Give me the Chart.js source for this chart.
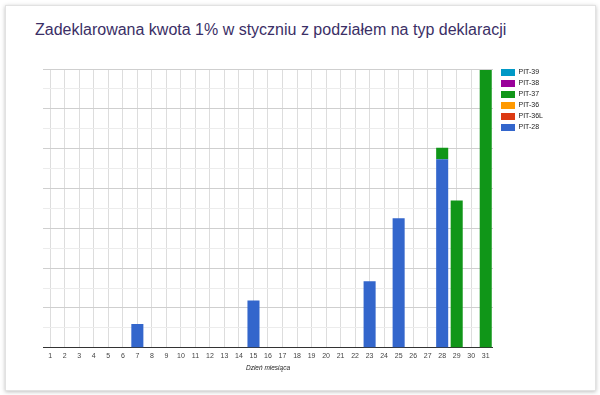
<!DOCTYPE html>
<html>
<head>
<meta charset="utf-8">
<script src="https://cdn.jsdelivr.net/npm/chart.js@4/dist/chart.umd.min.js"></script>
<style>
    html, body { margin: 0; padding: 0; background: #fff; }
    body { width: 600px; height: 395px; position: relative; overflow: hidden; font-family: "Liberation Sans", Arial, sans-serif; }
    #card {
        position: absolute; left: 5px; top: 5px; width: 589px; height: 384px;
        background: #fff; border: 1px solid #e2e2e2;
        box-shadow: 0 1px 4px rgba(0, 0, 0, 0.25);
    }
    #title {
        position: absolute; left: 35px; top: 22px; font-size: 16px; line-height: 16px;
        color: #3b2f66; white-space: nowrap;
    }
    #chart-wrap { position: absolute; left: 0; top: 0; width: 600px; height: 395px; }
</style>
</head>
<body>
<div id="card"></div>
<div id="title">Zadeklarowana kwota 1% w styczniu z podziałem na typ deklaracji</div>
<div id="chart-wrap"><canvas id="chart" width="600" height="395"></canvas></div>
<script>
// dni stycznia
const days = Array.from({ length: 31 }, (_, i) => String(i + 1));

// kwoty na dzień (jednostki umowne, oś Y bez opisów)
const pit28  = [0, 0, 0, 0, 0, 0, 1.2, 0, 0, 0, 0, 0, 0, 0, 2.38, 0, 0, 0, 0, 0, 0, 0, 3.34, 0, 6.5, 0, 0, 9.47, 0, 0, 0];
const pit36L = new Array(31).fill(0);
const pit36  = new Array(31).fill(0);
const pit37  = [0, 0, 0, 0, 0, 0, 0, 0, 0, 0, 0, 0, 0, 0, 0, 0, 0, 0, 0, 0, 0, 0, 0, 0, 0, 0, 0, 0.58, 7.4, 0, 13.95];
const pit38  = new Array(31).fill(0);
const pit39  = new Array(31).fill(0);

const seriesNames = ['PIT-28', 'PIT-36L', 'PIT-36', 'PIT-37', 'PIT-38', 'PIT-39'];
const seriesData = [pit28, pit36L, pit36, pit37, pit38, pit39];
const seriesColors = ['#3366cc', '#dc3912', '#ff9900', '#109618', '#990099', '#0099c6'];

const yMax = 14;

document.addEventListener('DOMContentLoaded', function() {
    createChart();
});

function createChart() {
    new Chart(document.getElementById('chart'), {
        type: 'bar',
        data: {
            labels: days,
            datasets: seriesNames.map((name, i) => ({
                label: name,
                data: seriesData[i],
                backgroundColor: seriesColors[i],
                borderWidth: 0,
                barPercentage: 0.83,
                categoryPercentage: 1.0
            }))
        },
        options: {
            responsive: false,
            animation: false,
            layout: {
                padding: { left: 43, top: 65, right: 47, bottom: 19 }
            },
            plugins: {
                title: {
                    display: true,
                    text: '',
                    padding: { top: 4, bottom: 0 },
                    font: { size: 0, lineHeight: 0 }
                },
                legend: {
                    position: 'right',
                    align: 'start',
                    reverse: true,
                    labels: {
                        boxWidth: 14,
                        boxHeight: 7,
                        padding: 4,
                        color: '#222',
                        font: { family: '"Liberation Sans", Arial, sans-serif', size: 7 }
                    }
                },
                tooltip: { enabled: false }
            },
            scales: {
                x: {
                    stacked: true,
                    grid: {
                        offset: false,
                        color: '#dddddd',
                        drawTicks: false
                    },
                    border: { display: true, color: '#333', width: 1 },
                    ticks: {
                        autoSkip: false,
                        maxRotation: 0,
                        padding: 4,
                        color: '#444',
                        font: { family: '"Liberation Sans", Arial, sans-serif', size: 7 }
                    },
                    title: {
                        display: true,
                        text: 'Dzień miesiąca',
                        color: '#222',
                        padding: { top: 0, bottom: 4 },
                        font: { family: '"Liberation Sans", Arial, sans-serif', size: 6.5, style: 'italic' }
                    }
                },
                y: {
                    stacked: true,
                    position: 'right',
                    min: 0,
                    max: yMax,
                    ticks: { display: false, stepSize: 1 },
                    grid: {
                        drawTicks: false,
                        color: ctx => (ctx.index % 2 === 0 ? '#cfcfcf' : '#ececec')
                    },
                    border: { display: false },
                    afterFit: scale => { scale.width = 4; }
                }
            }
        }
    });
}
</script>
</body>
</html>
